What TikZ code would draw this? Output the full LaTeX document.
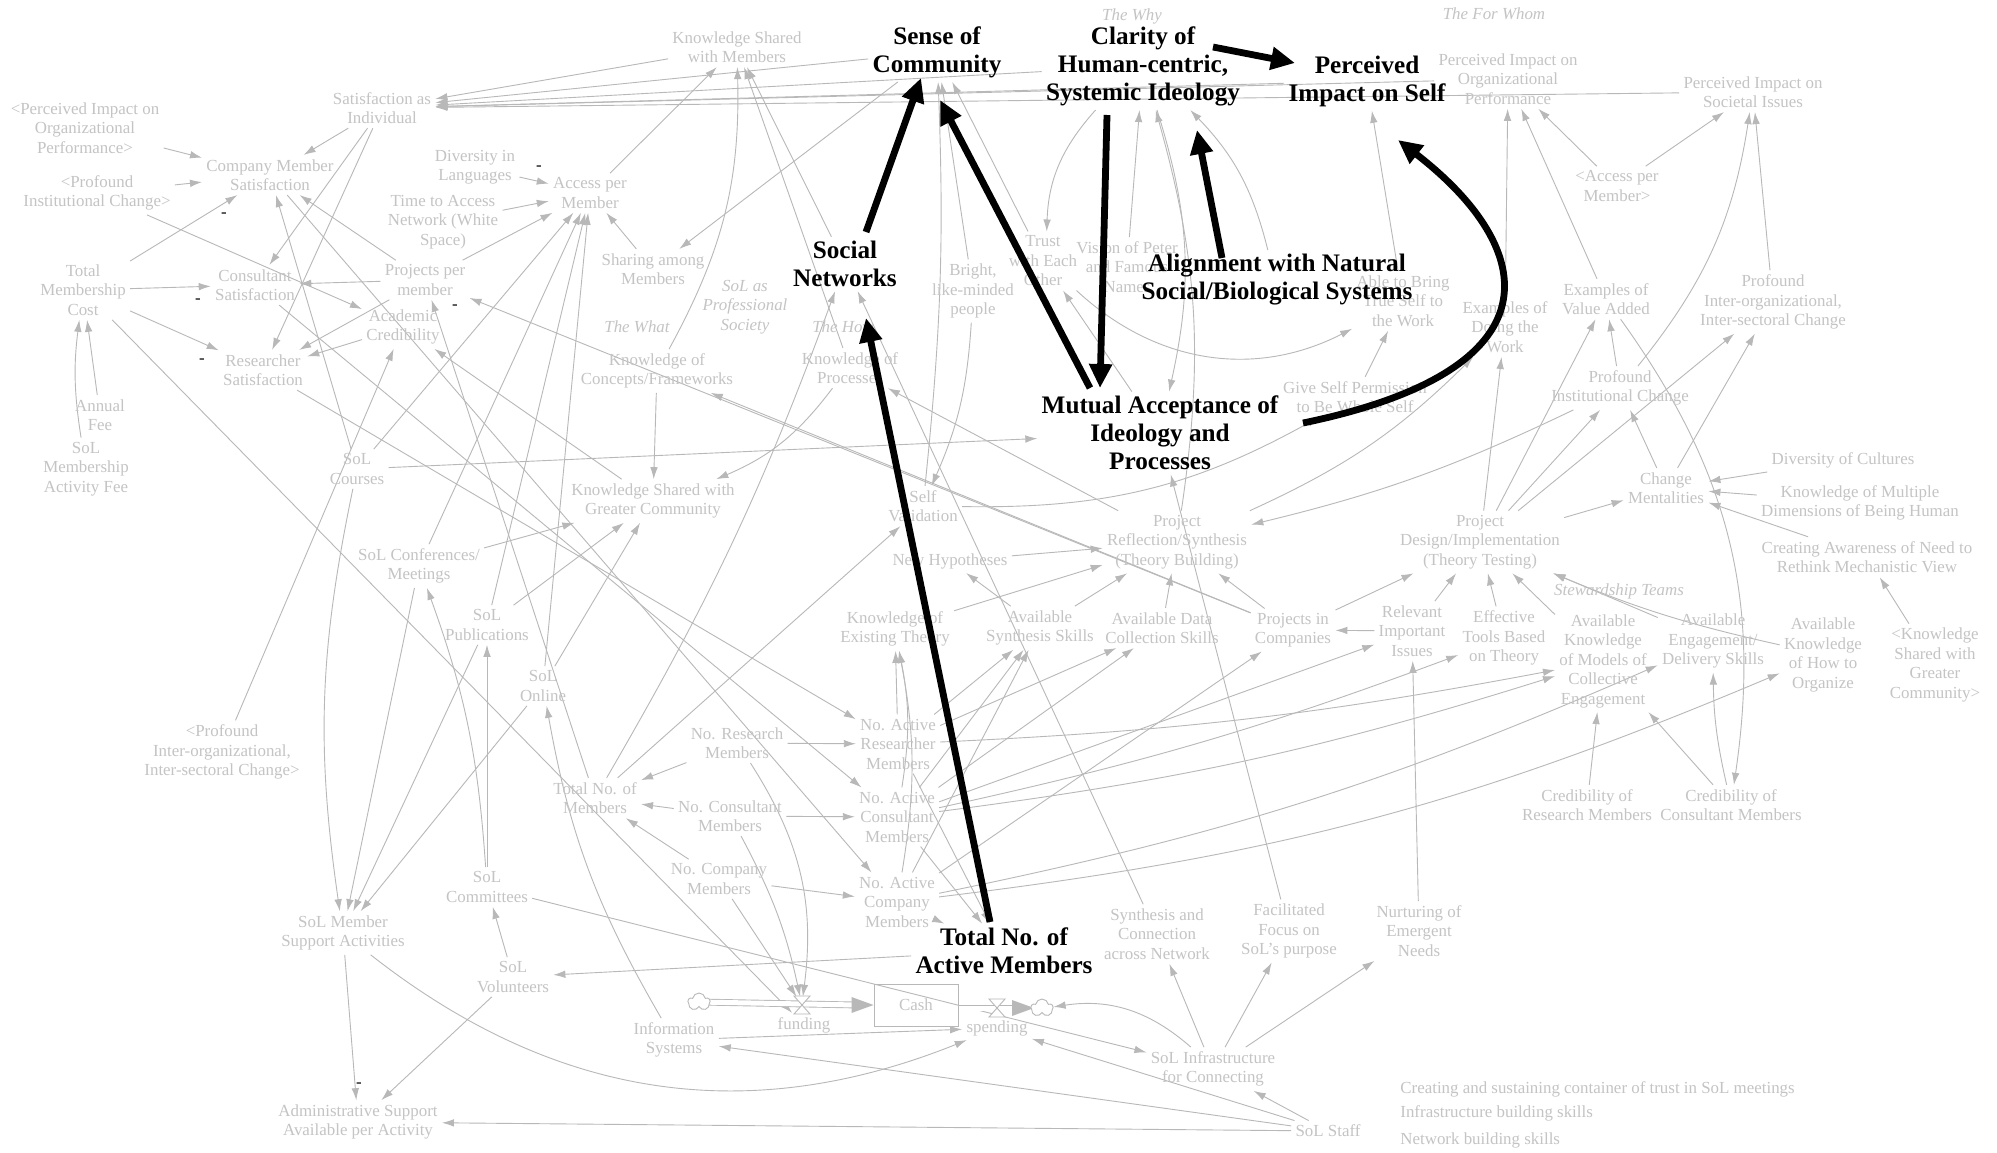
\documentclass[tikz,border=0pt]{standalone}
\usepackage{fontspec}
\setmainfont{Liberation Serif}
\usetikzlibrary{arrows.meta,shapes.symbols}
\definecolor{lgt}{RGB}{196,196,196}
\definecolor{lgl}{RGB}{184,184,184}
\pgfdeclarelayer{bg}
\pgfsetlayers{bg,main}
\tikzset{
 gt/.style={text=lgt, align=center, font=\fontsize{8.45}{9.75}\selectfont, inner sep=2pt},
 bt/.style={text=black, align=center, font=\bfseries\fontsize{12.6}{14}\selectfont, inner sep=2pt},
 it/.style={text=lgt, align=center, font=\itshape\fontsize{8.45}{9.75}\selectfont, inner sep=1pt},
 mk/.style={text=black, font=\fontsize{8.45}{9.75}\selectfont, inner sep=0pt},
 ge/.style={draw=lgl, line width=0.45pt, -{Latex[length=6pt,width=3.8pt]}},
 pipe/.style={draw=lgl, line width=0.45pt, double=white, double distance=2.5pt},
 bigarrow/.style={draw=black, line width=3.4pt, -{Triangle[length=12pt,width=11pt]}},
 cloudy/.style={cloud, cloud puffs=5, cloud puff arc=160, draw=lgl, fill=white, line width=0.45pt, minimum width=11pt, minimum height=9pt, inner sep=0pt},
}
\begin{document}
\begin{tikzpicture}[x=0.5pt,y=-0.5pt]
\useasboundingbox (0,0) rectangle (1997,1152);
\begin{pgfonlayer}{bg}
\fill[white] (0,0) rectangle (1997,1152);
\end{pgfonlayer}

% ---------- nodes ----------
\node[gt] (ksm) at (737,47) {Knowledge Shared\\with Members};
\node[bt] (sense) at (937,52) {Sense of\\Community};
\node[it] (why) at (1132,16) {The Why};
\node[bt] (clar) at (1143,66) {Clarity of\\Human-centric,\\Systemic Ideology};
\node[bt] (pself) at (1367,81) {Perceived\\Impact on Self};
\node[it] (forwhom) at (1494,14) {The For Whom};
\node[gt] (porg) at (1508,79) {Perceived Impact on\\Organizational\\Performance};
\node[gt] (psoc) at (1753,92) {Perceived Impact on\\Societal Issues};
\node[gt] (satind) at (382,108) {Satisfaction as\\Individual};
\node[gt] (gporg) at (85,128) {<Perceived Impact on\\Organizational\\Performance>};
\node[gt] (compsat) at (270,175) {Company Member\\Satisfaction};
\node[gt] (gpinst) at (97,193) {<Profound\\Institutional Change>};
\node[gt] (divlang) at (475,167) {Diversity in\\Languages};
\node[gt] (time) at (443,222) {Time to Access\\Network (White\\Space)};
\node[gt] (access) at (590,193) {Access per\\Member};
\node[gt] (sharing) at (653,269) {Sharing among\\Members};
\node[gt] (tmc) at (83,290) {Total\\Membership\\Cost};
\node[gt] (conssat) at (255,285) {Consultant\\Satisfaction};
\node[gt] (ppm) at (425,280) {Projects per\\member};
\node[gt] (acad) at (403,327) {Academic\\Credibility};
\node[gt] (ressat) at (263,370) {Researcher\\Satisfaction};
\node[gt] (fee) at (100,415) {Annual\\Fee};
\node[gt] (actfee) at (86,469) {SoL\\Membership\\Activity Fee};
\node[gt] (courses) at (357,469) {SoL\\Courses};
\node[gt] (conf) at (419,566) {SoL Conferences/\\Meetings};
\node[gt] (pubs) at (487,625) {SoL\\Publications};
\node[gt] (gpinter) at (222,752) {<Profound\\Inter-organizational,\\Inter-sectoral Change>};
\node[gt] (online) at (543,686) {SoL\\Online};
\node[gt] (kcf) at (657,371) {Knowledge of\\Concepts/Frameworks};
\node[it] (prof) at (745,307) {SoL as\\Professional\\Society};
\node[it] (what) at (637,327) {The What};
\node[it] (how) at (843,327) {The How};
\node[bt] (soc) at (845,264) {Social\\Networks};
\node[gt] (bright) at (973,291) {Bright,\\like-minded\\people};
\node[gt] (kp) at (850,368) {Knowledge of\\Processes};
\node[gt] (trust) at (1043,261) {Trust\\with Each\\Other};
\node[gt] (vision) at (1127,267) {Vision of Peter\\and Famous\\Names};
\node[gt] (able) at (1403,301) {Able to Bring\\True Self to\\the Work};
\node[bt] (align) at (1277,280) {Alignment with Natural\\Social/Biological Systems};
\node[gt] (exdo) at (1505,327) {Examples of\\Doing the\\Work};
\node[gt] (exval) at (1606,299) {Examples of\\Value Added};
\node[gt] (pinter) at (1773,302) {Profound\\Inter-organizational,\\Inter-sectoral Change};
\node[gt] (gaccess) at (1617,186) {<Access per\\Member>};
\node[gt] (pinst) at (1620,388) {Profound\\Institutional Change};
\node[gt] (give) at (1355,397) {Give Self Permission\\to Be Whole Self};
\node[bt] (mut) at (1160,433) {Mutual Acceptance of\\Ideology and\\Processes};
\node[gt] (selfval) at (923,506) {Self\\Validation};
\node[gt] (newhyp) at (950,561) {New Hypotheses};
\node[gt] (refl) at (1177,542) {Project\\Reflection/Synthesis\\(Theory Building)};
\node[gt] (design) at (1480,542) {Project\\Design/Implementation\\(Theory Testing)};
\node[gt] (change) at (1666,488) {Change\\Mentalities};
\node[gt] (divcult) at (1843,460) {Diversity of Cultures};
\node[gt] (kmult) at (1860,503) {Knowledge of Multiple\\Dimensions of Being Human};
\node[gt] (aware) at (1867,557) {Creating Awareness of Need to\\Rethink Mechanistic View};
\node[it] (steward) at (1619,591) {Stewardship Teams};
\node[gt] (akm) at (1603,661) {Available\\Knowledge\\of Models of\\Collective\\Engagement};
\node[gt] (aeng) at (1713,641) {Available\\Engagement/\\Delivery Skills};
\node[gt] (ahow) at (1823,655) {Available\\Knowledge\\of How to\\Organize};
\node[gt] (gksgc) at (1935,665) {<Knowledge\\Shared with\\Greater\\Community>};
\node[gt] (tools) at (1504,638) {Effective\\Tools Based\\on Theory};
\node[gt] (relev) at (1412,631) {Relevant\\Important\\Issues};
\node[gt] (pic) at (1293,630) {Projects in\\Companies};
\node[gt] (adata) at (1162,628) {Available Data\\Collection Skills};
\node[gt] (asyn) at (1040,628) {Available\\Synthesis Skills};
\node[gt] (ket) at (895,629) {Knowledge of\\Existing Theory};
\node[gt] (ksgc) at (653,501) {Knowledge Shared with\\Greater Community};
\node[gt] (nar) at (898,744) {No. Active\\Researcher\\Members};
\node[gt] (nrm) at (737,743) {No. Research\\Members};
\node[gt] (tnm) at (595,798) {Total No. of\\Members};
\node[gt] (ncm) at (730,816) {No. Consultant\\Members};
\node[gt] (nac) at (897,817) {No. Active\\Consultant\\Members};
\node[gt] (ncom) at (719,879) {No. Company\\Members};
\node[gt] (nacom) at (897,902) {No. Active\\Company\\Members};
\node[bt] (tam) at (1004,951) {Total No. of\\Active Members};
\node[gt] (comm) at (487,887) {SoL\\Committees};
\node[gt] (vol) at (513,977) {SoL\\Volunteers};
\node[gt] (msa) at (343,933) {SoL Member\\Support Activities};
\node[gt] (admin) at (358,1122) {Administrative Support\\Available per Activity};
\node[gt] (info) at (674,1040) {Information\\Systems};
\node[gt] (fundl) at (804,1025) {funding};
\node[gt] (spendl) at (997,1028) {spending};
\node[gt] (synth) at (1157,934) {Synthesis and\\Connection\\across Network};
\node[gt] (focus) at (1289,931) {Facilitated\\Focus on\\SoL's purpose};
\node[gt] (nurt) at (1419,931) {Nurturing of\\Emergent\\Needs};
\node[gt] (infra) at (1213,1069) {SoL Infrastructure\\for Connecting};
\node[gt] (staff) at (1328,1131) {SoL Staff};
\node[gt, anchor=west] (note1) at (1396,1089) {Creating and sustaining container of trust in SoL meetings};
\node[gt, anchor=west] (note2) at (1396,1113) {Infrastructure building skills};
\node[gt, anchor=west] (note3) at (1396,1140) {Network building skills};
\node[gt] (credres) at (1587,805) {Credibility of\\Research Members};
\node[gt] (credcons) at (1731,805) {Credibility of\\Consultant Members};

% stock and flow
\node[draw=lgl, line width=0.5pt, minimum width=42pt, minimum height=21pt, inner sep=0pt, text=lgt, font=\fontsize{8.45}{9.75}\selectfont] (cash) at (916,1005) {Cash};
\node[inner sep=0pt, minimum size=8pt] (fundv) at (802,1005) {};
\node[inner sep=0pt, minimum size=8pt] (spendv) at (997,1008) {};
\coordinate (srcpt) at (699,1002);
\coordinate (sinkpt) at (1042,1008);

\draw[pipe] (srcpt) -- ([xshift=-8pt]cash.west);
\fill[lgl] (cash.west) -- ++(-22,-8) -- ++(0,16) -- cycle;
\draw[pipe] (cash.east |- spendv) -- ([xshift=-12pt]sinkpt);
\fill[lgl] ([xshift=-4pt]sinkpt) -- ++(-22,-8) -- ++(0,16) -- cycle;
\node[cloudy] (src) at (srcpt) {};
\node[cloudy] (sink) at (sinkpt) {};
\draw[lgl, fill=white, line width=0.45pt] (794,996) -- (810,996) -- (794,1014) -- (810,1014) -- cycle;
\draw[lgl, fill=white, line width=0.45pt] (989,999) -- (1005,999) -- (989,1017) -- (1005,1017) -- cycle;

% ---------- gray connectors ----------
\begin{pgfonlayer}{bg}
\draw[ge] (ksm) -- (satind);
\draw[ge] (sense) -- (satind);
\draw[ge] (clar) -- (satind);
\draw[ge] (pself) -- (satind);
\draw[ge] (porg) -- (satind);
\draw[ge] (psoc) -- (satind);

\draw[ge] (gporg) -- (compsat);
\draw[ge] (gpinst) -- (compsat);
\draw[ge] (gpinst) -- (acad);
\draw[ge] (satind) -- (compsat);
\draw[ge] (satind) -- (conssat);
\draw[ge] (satind) -- (ressat);
\draw[ge] (tmc) -- (compsat);
\draw[ge] (tmc) -- (conssat);
\draw[ge] (tmc) -- (ressat);
\draw[ge] (fee) -- (tmc);
\draw[ge] (actfee) to[bend left=8] (tmc);
\draw[ge] (tmc) -- (fundl);
\draw[ge] (ppm) -- (compsat);
\draw[ge] (ppm) -- (conssat);
\draw[ge] (ppm) -- (ressat);
\draw[ge] (acad) -- (ressat);
\draw[ge] (ppm) -- (access);
\draw[ge] (time) -- (access);
\draw[ge] (divlang) -- (access);
\draw[ge] (sharing) -- (access);
\draw[ge] (access) -- (ksm);
\draw[ge] (sense) -- (sharing);
\draw[ge] (courses) -- (compsat);
\draw[ge] (ressat) -- (nar);
\draw[ge] (conssat) -- (nac);
\draw[ge] (compsat) -- (nacom);
\draw[ge] (ksgc) -- (acad);
\draw[ge] (gpinter) -- (acad);
\draw[ge] (tnm) -- (ppm);
\draw[ge] (pic) -- (ppm);
\draw[ge] (courses) -- (access);
\draw[ge] (conf) -- (access);
\draw[ge] (pubs) -- (access);
\draw[ge] (online) -- (access);
\draw[ge] (courses) -- (mut);
\draw[ge] (courses) to[bend right=10] (msa);
\draw[ge] (conf) -- (msa);
\draw[ge] (pubs) -- (msa);
\draw[ge] (online) -- (msa);
\draw[ge] (comm) to[bend right=8] (conf);
\draw[ge] (comm) -- (pubs);
\draw[ge] (vol) -- (comm);
\draw[ge] (vol) -- (admin);
\draw[ge] (msa) -- (admin);
\draw[ge] (msa) to[bend right=30] (spendl);
\draw[ge] (staff) -- (admin);
\draw[ge] (staff) -- (info);
\draw[ge] (staff) -- (spendl);
\draw[ge] (staff) -- (infra);
\draw[ge] (info) -- (spendl);
\draw[ge] (info) to[bend left=10] (online);
\draw[ge] (infra) -- (synth);
\draw[ge] (infra) -- (focus);
\draw[ge] (infra) -- (nurt);
\draw[ge] (infra) to[bend right=25] (sink);
\draw[ge] (comm) -- (infra);
\draw[ge] (tam) -- (vol);
\draw[ge] (synth) -- (soc);
\draw[ge] (focus) -- (mut);
\draw[ge] (nurt) -- (relev);
\draw[ge] (tnm) to[bend right=5] (soc);
\draw[ge] (tnm) -- (selfval);
\draw[ge] (kcf) -- (ksgc);
\draw[ge] (kp) to[bend left=15] (ksgc);
\draw[ge] (pubs) -- (ksgc);
\draw[ge] (online) -- (ksgc);
\draw[ge] (conf) -- (ksgc);
\draw[ge] (kcf) to[bend right=15] (ksm);
\draw[ge] (kp) -- (ksm);
\draw[ge] (soc) -- (ksm);
\draw[ge] (bright) -- (sense);
\draw[ge] (trust) -- (sense);
\draw[ge] (selfval) to[bend right=4] (sense);
\draw[ge] (clar) to[bend right=20] (trust);
\draw[ge] (vision) -- (clar);
\draw[ge] (clar) to[bend left=15] (mut);
\draw[ge] (refl) to[bend right=12] (clar);
\draw[ge] (align) to[bend right=15] (clar);
\draw[ge] (trust) to[bend right=35] (able);
\draw[ge] (mut) -- (trust);
\draw[ge] (able) -- (pself);
\draw[ge] (give) -- (able);
\draw[ge] (exdo) -- (porg);
\draw[ge] (exval) -- (porg);
\draw[ge] (gaccess) -- (porg);
\draw[ge] (gaccess) -- (psoc);
\draw[ge] (pinst) to[bend right=15] (psoc);
\draw[ge] (pinter) -- (psoc);
\draw[ge] (pinst) -- (exval);
\draw[ge] (design) -- (exval);
\draw[ge] (design) -- (exdo);
\draw[ge] (exval) to[bend left=22] (credcons);
\draw[ge] (change) -- (pinst);
\draw[ge] (change) -- (pinter);
\draw[ge] (design) -- (pinter);
\draw[ge] (design) -- (pinst);
\draw[ge] (refl) to[bend right=10] (exdo);
\draw[ge] (pinst) to[bend left=6] (refl);
\draw[ge] (selfval) to[bend right=15] (give);
\draw[ge] (bright) to[bend left=10] (selfval);
\draw[ge] (refl) -- (kp);
\draw[ge] (pic) -- (kcf);
\draw[ge] (newhyp) -- (refl);
\draw[ge] (ket) -- (refl);
\draw[ge] (asyn) -- (refl);
\draw[ge] (adata) -- (refl);
\draw[ge] (pic) -- (refl);
\draw[ge] (asyn) -- (newhyp);
\draw[ge] (relev) -- (pic);
\draw[ge] (pic) -- (design);
\draw[ge] (relev) -- (design);
\draw[ge] (tools) -- (design);
\draw[ge] (akm) -- (design);
\draw[ge] (aeng) -- (design);
\draw[ge] (ahow) to[bend left=5] (design);
\draw[ge] (design) -- (change);
\draw[ge] (divcult) -- (change);
\draw[ge] (kmult) -- (change);
\draw[ge] (aware) -- (change);
\draw[ge] (gksgc) -- (aware);
\draw[ge] (credres) -- (akm);
\draw[ge] (credcons) -- (akm);
\draw[ge] (credcons) to[bend left=6] (aeng);
\draw[ge] (nrm) -- (nar);
\draw[ge] (nrm) -- (tnm);
\draw[ge] (ncm) -- (tnm);
\draw[ge] (ncom) -- (tnm);
\draw[ge] (ncm) -- (nac);
\draw[ge] (ncom) -- (nacom);
\draw[ge] (nrm) to[bend left=20] (fundv);
\draw[ge] (ncm) to[bend left=8] (fundv);
\draw[ge] (ncom) -- (fundv);
\draw[ge] (nar) -- (tam);
\draw[ge] (nac) -- (tam);
\draw[ge] (nacom) -- (tam);
\draw[ge] (nar) -- (ket);
\draw[ge] (nac) to[bend right=10] (ket);
\draw[ge] (nacom) to[bend right=10] (ket);
\draw[ge] (nar) -- (asyn);
\draw[ge] (nac) -- (asyn);
\draw[ge] (nacom) -- (asyn);
\draw[ge] (nar) -- (adata);
\draw[ge] (nac) -- (adata);
\draw[ge] (nacom) -- (pic);
\draw[ge] (nac) -- (relev);
\draw[ge] (nac) to[bend right=4] (tools);
\draw[ge] (nar) to[bend right=4] (akm);
\draw[ge] (nac) to[bend right=5] (akm);
\draw[ge] (nacom) to[bend right=6] (aeng);
\draw[ge] (nacom) to[bend right=8] (ahow);
\end{pgfonlayer}

% ---------- bold connectors ----------
\draw[bigarrow] ([shift={(21,-32)}]soc.center) -- ([shift={(-16,26)}]sense.center);
\draw[bigarrow] ([shift={(-70,-45)}]mut.center) -- ([shift={(3,48)}]sense.center);
\draw[bigarrow] ([shift={(-36,49)}]clar.center) -- ([shift={(-60,-45)}]mut.center);
\draw[bigarrow] ([shift={(70,-19)}]clar.center) -- ([shift={(-72,-18)}]pself.center);
\draw[bigarrow] ([shift={(-55,-22)}]align.center) -- ([shift={(54,64)}]clar.center);
\draw[bigarrow] ([shift={(-14,-29)}]tam.center) -- ([shift={(21,54)}]soc.center);
\draw[bigarrow] ([shift={(143,-10)}]mut.center) .. controls (1560,370) and (1540,250) .. ([shift={(31,59)}]pself.center);

% ---------- minus signs ----------
\node[mk] (m1) at (224,215) {-};
\node[mk] (m2) at (198,301) {-};
\node[mk] (m3) at (202,361) {-};
\node[mk] (m4) at (455,307) {-};
\node[mk] (m5) at (539,168) {-};
\node[mk] (m6) at (359,1085) {-};
\end{tikzpicture}
\end{document}
